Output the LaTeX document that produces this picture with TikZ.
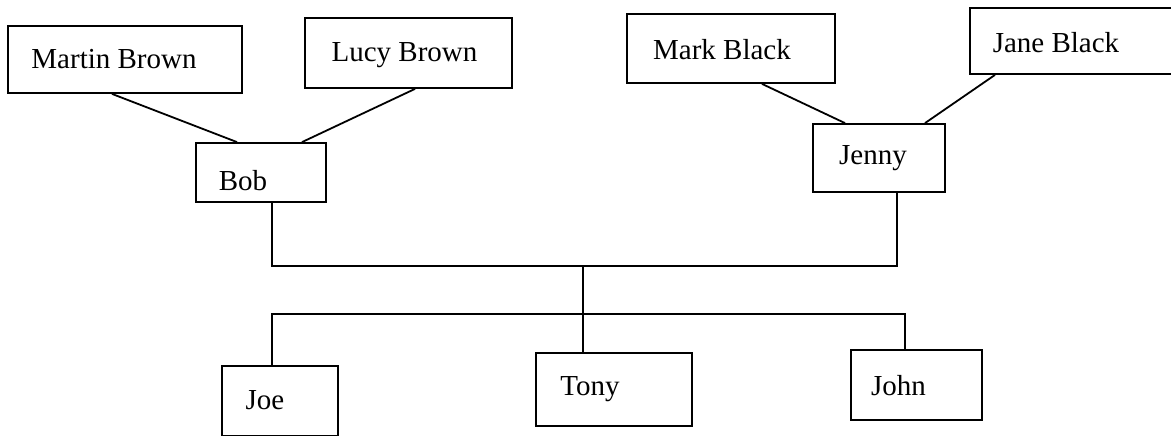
\documentclass[tikz,border=0pt]{standalone}
\usepackage{fontspec}
\setmainfont{Liberation Serif}
\begin{document}
\begin{tikzpicture}[x=1pt,y=-1pt,
  person/.style={draw, line width=1.8pt, inner sep=0pt},
  namefont/.style={font=\fontsize{29}{32}\selectfont},
  link/.style={line width=1.8pt}]
\useasboundingbox (0,0) rectangle (1171,436);
\fill[white] (0,0) rectangle (1171,436);
% grandparents
\node[person, minimum width=234pt, minimum height=67pt,
  label={[namefont, xshift=-11pt]center:Martin Brown}] (mb) at (125,59.5) {};
\node[person, minimum width=207pt, minimum height=70pt,
  label={[namefont, xshift=-4pt, yshift=-2pt]center:Lucy Brown}] (lb) at (408.5,53) {};
\node[person, minimum width=208pt, minimum height=69pt,
  label={[namefont, xshift=-9pt, yshift=-1pt]center:Mark Black}] (mk) at (731,48.5) {};
\node[person, minimum width=204pt, minimum height=66pt,
  label={[namefont, xshift=-16pt, yshift=-2pt]center:Jane Black}] (jb) at (1072,41) {};
% parents
\node[person, minimum width=130pt, minimum height=59pt,
  label={[namefont, xshift=-18pt, yshift=-8pt]center:Bob}] (bob) at (261,172.5) {};
\node[person, minimum width=132pt, minimum height=68pt,
  label={[namefont, xshift=-6pt]center:Jenny}] (jenny) at (879,158) {};
% children
\node[person, minimum width=116pt, minimum height=70pt,
  label={[namefont, xshift=-15pt, yshift=1pt]center:Joe}] (joe) at (280,401) {};
\node[person, minimum width=156pt, minimum height=73pt,
  label={[namefont, xshift=-24pt]center:Tony}] (tony) at (614,389.5) {};
\node[person, minimum width=131pt, minimum height=70pt,
  label={[namefont, xshift=-18pt, yshift=-1pt]center:John}] (john) at (916.5,385) {};
% grandparent links
\draw[link] ([xshift=-13pt]mb.south) -- ([xshift=-24pt]bob.north);
\draw[link] ([xshift=6.5pt]lb.south) -- ([xshift=41pt]bob.north);
\draw[link] ([xshift=31pt]mk.south) -- ([xshift=-34pt]jenny.north);
\draw[link] ([xshift=-77pt]jb.south) -- ([xshift=46pt]jenny.north);
% marriage bar
\coordinate (tee) at (583,266);
\draw[link] ([xshift=11pt]bob.south) |- (tee) -| ([xshift=18pt]jenny.south);
\draw[link] (tee) -- ([xshift=-31pt]tony.north);
% children bar
\coordinate (cbar) at (583,314);
\draw[link] ([xshift=-8pt]joe.north) |- (cbar) -| ([xshift=-11.5pt]john.north);
\end{tikzpicture}
\end{document}
